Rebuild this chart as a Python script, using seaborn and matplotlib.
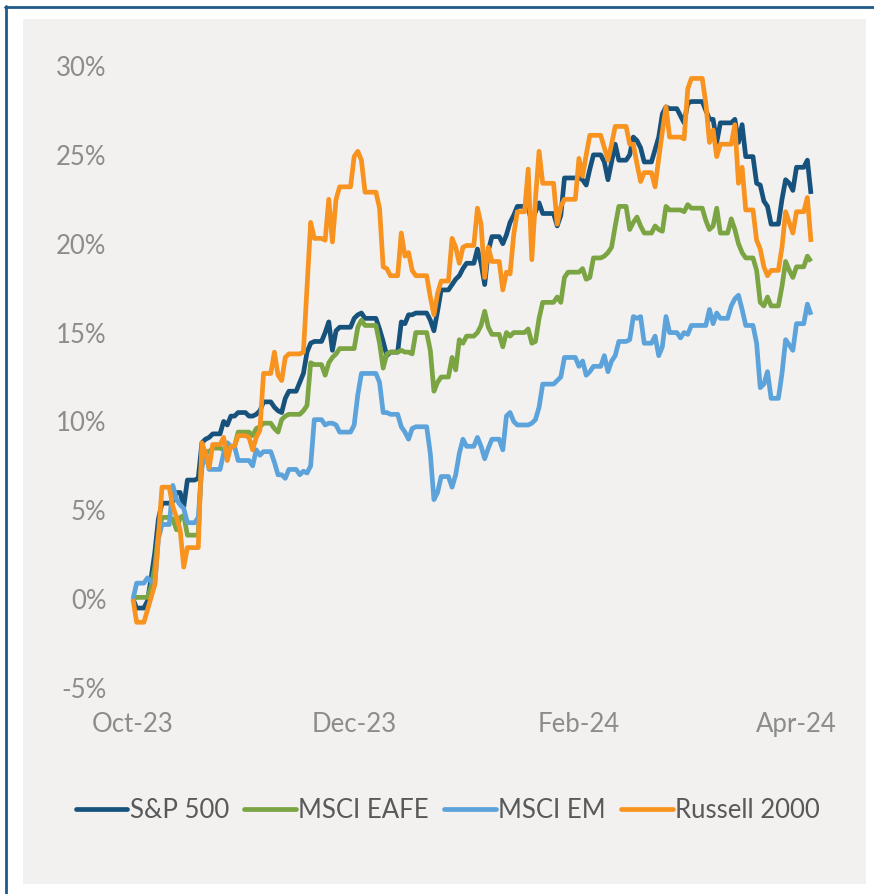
import numpy as np
import pandas as pd
import matplotlib
matplotlib.use("Agg")
import matplotlib.pyplot as plt
import seaborn as sns
from matplotlib.lines import Line2D
from matplotlib.patches import Rectangle

# ---------------- data ----------------
series_names = ["S&P 500", "MSCI EAFE", "MSCI EM", "Russell 2000"]
series_colors = ["#17527D", "#7BA443", "#5BA3DA", "#F7931E"]

us_holidays = ["2023-11-23", "2023-12-25", "2024-01-01", "2024-01-15",
               "2024-02-19", "2024-03-29"]
first_day = "2023-10-26"
last_day = "2024-04-30"

# cumulative return (%) on each trading day
sp500 = [
    0, -0.5, -0.1, 1.2,
    2.6, 4.5, 5.4, 5.5, 6.0, 6.0, 5.2, 6.7, 6.8, 8.8, 9.0, 9.1, 9.3, 10.0, 9.8, 10.3, 10.5, 10.3, 10.3, 10.4, 10.6,
    11.1, 10.8, 10.6, 10.5, 11.3, 11.7, 12.2, 12.7, 13.9, 14.4, 14.5, 15.0, 15.6, 14.0, 15.1, 15.3, 15.8, 16.0, 16.1, 15.8,
    15.2, 14.5, 13.7, 13.9, 15.6, 15.5, 16.0, 16.0, 16.1, 15.7, 15.1, 16.2, 17.4, 17.7, 18.0, 18.2, 18.6, 18.9, 19.7, 18.9, 17.7,
    19.6, 20.4, 20.0, 20.5, 21.2, 21.6, 22.1, 22.0, 21.2, 21.8, 22.3, 21.7, 21.0, 21.6, 23.7, 23.7, 23.7, 23.6, 23.3, 24.2,
    25.0, 24.6, 23.6, 24.6, 25.6, 24.7, 25.0, 26.0, 25.8, 25.4, 24.6, 25.3, 26.0, 27.3, 27.7, 27.6, 27.2, 26.8, 27.9, 28.0,
    27.5, 27.0, 27.0, 25.7, 26.8, 26.8, 27.0, 25.7, 26.7, 24.9, 23.4, 23.3, 22.4, 22.1, 21.1, 22.5, 23.6, 23.4, 23.0, 24.3, 24.7, 22.8,
]
msci_eafe = [
    0, 0.1, 0.1, 0.7,
    1.8, 3.7, 4.6, 4.5, 3.9, 4.6, 4.7, 3.6, 3.6, 8.3, 8.3, 8.3, 8.5, 8.4, 8.7, 8.6, 9.4, 9.4, 9.2, 9.6, 9.7,
    9.9, 9.6, 9.4, 10.1, 10.3, 10.4, 10.4, 10.6, 10.9, 13.3, 13.2, 12.6, 13.3, 13.6, 13.8, 14.1, 14.1, 15.3, 15.7, 15.4,
    14.4, 13.0, 13.8, 13.9, 14.0, 13.9, 13.9, 13.8, 15.0, 14.0, 11.7, 12.2, 12.5, 13.6, 12.9, 14.6, 14.4, 14.8, 15.0, 15.4, 16.2,
    15.3, 14.9, 14.2, 15.0, 14.8, 15.0, 15.0, 15.2, 14.4, 14.5, 15.8, 16.7, 17.0, 16.7, 18.1, 18.4, 18.4, 18.6, 18.0, 18.1,
    19.2, 19.3, 19.5, 19.8, 21.0, 22.1, 20.8, 21.2, 21.5, 21.0, 20.6, 21.0, 20.8, 20.7, 22.1, 21.9, 21.9, 21.8, 22.2, 22.0,
    21.3, 20.8, 21.0, 22.0, 20.6, 21.4, 20.8, 20.0, 19.5, 19.2, 18.5, 16.7, 16.5, 17.0, 16.5, 17.6, 19.0, 18.5, 18.1, 18.7, 19.3, 19.0,
]
msci_em = [
    0, 0.9, 1.2, 1.0,
    0.8, 3.4, 4.2, 6.4, 5.6, 5.3, 5.1, 4.3, 4.6, 7.4, 8.3, 7.3, 7.3, 8.2, 8.8, 8.6, 7.8, 7.8, 7.5, 8.4, 8.1,
    8.3, 7.7, 7.0, 7.0, 6.8, 7.3, 7.0, 7.2, 7.1, 7.5, 10.1, 9.8, 9.9, 9.9, 9.8, 9.4, 9.8, 11.5, 12.7, 12.7,
    12.2, 10.5, 10.5, 10.4, 9.7, 9.4, 9.0, 9.6, 9.7, 8.2, 5.6, 6.0, 6.9, 6.3, 7.0, 8.2, 9.0, 8.6, 9.1, 8.6, 7.9,
    8.5, 9.0, 8.4, 10.3, 10.5, 10.0, 9.8, 9.8, 9.9, 10.1, 10.8, 12.1, 12.3, 12.5, 13.6, 13.6, 13.1, 13.4, 12.6, 12.8,
    13.1, 13.7, 12.8, 13.4, 13.7, 14.5, 14.6, 15.9, 15.8, 15.9, 14.4, 14.8, 13.7, 14.2, 15.9, 15.0, 14.7, 15.0, 14.9, 15.4,
    15.4, 16.3, 15.5, 16.1, 15.8, 16.5, 16.9, 17.1, 16.3, 15.4, 14.4, 11.9, 12.1, 12.8, 11.3, 12.7, 14.6, 14.3, 14.0, 15.5, 16.6, 16.0,
]
russell_2000 = [
    0, -1.3, -0.6, 0.1,
    0.8, 3.5, 6.3, 5.2, 4.6, 3.9, 1.8, 2.9, 2.9, 8.8, 8.2, 7.4, 8.7, 9.1, 7.8, 8.6, 9.2, 9.1, 8.4, 9.1, 9.5,
    12.7, 13.9, 12.6, 12.3, 13.6, 13.8, 13.8, 13.9, 17.5, 21.2, 20.3, 20.2, 22.5, 20.1, 22.5, 23.2, 24.9, 25.2, 24.7, 22.9,
    22.0, 18.7, 18.6, 18.2, 20.6, 19.3, 19.5, 18.5, 18.2, 17.0, 16.0, 17.2, 17.9, 20.3, 19.8, 18.9, 19.8, 19.9, 22.0, 21.1, 18.1,
    19.8, 19.0, 17.4, 18.4, 18.3, 20.5, 21.8, 24.2, 19.1, 22.5, 25.2, 23.4, 21.1, 22.1, 22.5, 22.5, 24.8, 23.8, 25.0, 26.1,
    26.1, 25.4, 24.7, 25.6, 26.6, 26.6, 25.6, 25.6, 24.5, 23.5, 24.0, 23.2, 24.8, 26.3, 27.7, 26.0, 26.0, 25.9, 28.7, 29.3,
    27.9, 25.7, 26.4, 24.9, 25.6, 25.6, 26.7, 23.4, 24.3, 21.9, 20.2, 19.7, 18.7, 18.2, 18.5, 19.8, 21.8, 21.2, 20.6, 21.8, 22.6, 20.1,
]

tick_dates = ["2023-10-26", "2023-12-26", "2024-02-26", "2024-04-26"]
tick_labels = ["Oct-23", "Dec-23", "Feb-24", "Apr-24"]
y_ticks = [-5, 0, 5, 10, 15, 20, 25, 30]
y_tick_labels = ["-5%", "0%", "5%", "10%", "15%", "20%", "25%", "30%"]

# ---------------- table ----------------
trading_days = pd.bdate_range(first_day, last_day).drop(pd.to_datetime(us_holidays))
wide = pd.DataFrame(
    {"S&P 500": sp500, "MSCI EAFE": msci_eafe, "MSCI EM": msci_em, "Russell 2000": russell_2000},
    index=trading_days,
)
calendar = pd.date_range(first_day, last_day, freq="D")
wide = wide.reindex(calendar).ffill()  # levels carry over weekends/holidays
long = (wide.rename_axis("date").reset_index()
        .melt(id_vars="date", var_name="index", value_name="ret"))

# ---------------- style ----------------
sns.set_style("white")
plt.rcParams["font.family"] = ["Lato", "DejaVu Sans"]

W, H = 874, 894
fig = plt.figure(figsize=(W / 100, H / 100), dpi=100)
fig.patch.set_facecolor("white")

panel_color = "#F2F1F0"
border_color = "#1F5A89"
fig.add_artist(Rectangle((23 / W, 1 - 884 / H), (866 - 23) / W, (884 - 19) / H,
                         transform=fig.transFigure, facecolor=panel_color,
                         edgecolor="none", zorder=-2))
fig.add_artist(Line2D([6 / W, 6 / W], [0, 1 - 6 / H], transform=fig.transFigure,
                      color=border_color, linewidth=2.0, zorder=-1))
fig.add_artist(Line2D([5 / W, 1], [1 - 7 / H, 1 - 7 / H], transform=fig.transFigure,
                      color=border_color, linewidth=2.0, zorder=-1))

ax_left, ax_right, ax_top, ax_bottom = 133, 811, 66, 688
ax = fig.add_axes([ax_left / W, 1 - ax_bottom / H, (ax_right - ax_left) / W,
                   (ax_bottom - ax_top) / H])
ax.set_facecolor("none")

sns.lineplot(data=long, x="date", y="ret", hue="index", hue_order=series_names,
             palette=series_colors, linewidth=3.4, estimator=None, legend=False,
             ax=ax)
for ln in ax.get_lines():
    ln.set_clip_on(False)
    ln.set_solid_joinstyle("round")
    ln.set_solid_capstyle("butt")

ax.set_xlim(pd.Timestamp(first_day), pd.Timestamp(last_day))
ax.set_ylim(-5, 30)
ax.set_yticks(y_ticks)
ax.set_yticklabels(y_tick_labels)
ax.set_xticks(pd.to_datetime(tick_dates))
ax.set_xticklabels(tick_labels)
ax.set_xlabel("")
ax.set_ylabel("")
for s in ax.spines.values():
    s.set_visible(False)
ax.grid(False)

tick_color = "#8C8C8C"
ax.tick_params(axis="y", length=0, pad=19, labelsize=18.5, labelcolor=tick_color)
ax.tick_params(axis="x", length=0, pad=17, labelsize=18.5, labelcolor=tick_color)

handles = [Line2D([0], [0], color=c, linewidth=3.4) for c in series_colors]
fig.legend(handles, series_names, loc="center", bbox_to_anchor=(448 / W, 1 - 810 / H),
           ncol=4, frameon=False, fontsize=18.5, labelcolor="#595959",
           handlelength=2.0, handletextpad=0.1, columnspacing=0.6,
           borderaxespad=0, borderpad=0)

fig.savefig("out.png", dpi=100, facecolor="white")
